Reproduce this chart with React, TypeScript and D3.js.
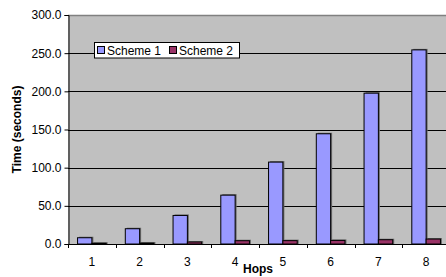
import React, { useRef, useEffect } from 'react';
import * as d3 from 'd3';

const hops = ['1', '2', '3', '4', '5', '6', '7', '8'];
const seriesNames = ['Scheme 1', 'Scheme 2'];
const scheme1 = [8.2, 20.0, 37.4, 64.0, 107.3, 144.4, 197.6, 254.3];
const scheme2 = [1.0, 1.2, 2.6, 4.3, 4.4, 4.7, 5.6, 6.5];
const yTicks = [0, 50, 100, 150, 200, 250, 300];
const colors = ['#9999FF', '#993366'];

const App = () => {
  const svgRef = useRef<SVGSVGElement>(null);
  const margin = { left: 68, top: 15, right: -4, bottom: 33 };
  const totalW = 446;
  const totalH = 277;
  const width = totalW - margin.left - margin.right;
  const height = totalH - margin.top - margin.bottom;

  useEffect(() => {
    const svgEl = d3.select(svgRef.current);
    svgEl.selectAll('*').remove();
    const svg = svgEl.append('g').attr('transform', `translate(${margin.left},${margin.top})`);
    const font = 'Liberation Sans, Arial, sans-serif';

    const x0 = d3.scaleBand().domain(hops).range([0, width]);
    const pad = x0.bandwidth() * 0.2;
    const x1 = d3.scaleBand().domain(seriesNames).range([pad, x0.bandwidth() - pad]);
    const y = d3.scaleLinear().domain([0, 300]).range([height, 0]);

    // plot background
    svg.append('rect')
      .attr('x', 0).attr('y', 0)
      .attr('width', width).attr('height', height)
      .attr('fill', '#C0C0C0');

    // top border
    svg.append('line')
      .attr('x1', 0).attr('x2', width)
      .attr('y1', 0.5).attr('y2', 0.5)
      .attr('stroke', '#808080').attr('stroke-width', 1.5);

    // gridlines
    svg.selectAll('.grid')
      .data(yTicks.filter((t) => t > 0 && t < 300))
      .enter()
      .append('line')
      .attr('x1', 0).attr('x2', width)
      .attr('y1', (d) => Math.round(y(d)) + 0.5)
      .attr('y2', (d) => Math.round(y(d)) + 0.5)
      .attr('stroke', '#000')
      .attr('stroke-width', 1);

    // y axis
    const yAxis = d3.axisLeft(y)
      .tickValues(yTicks)
      .tickSize(4)
      .tickPadding(3)
      .tickFormat((v) => d3.format('.1f')(v as number));
    const yG = svg.append('g').attr('transform', 'translate(0.5,0)').call(yAxis);
    yG.select('.domain').attr('stroke', '#000');
    yG.selectAll('line').attr('stroke', '#000');
    yG.selectAll('text')
      .attr('font-family', font)
      .attr('font-size', 12)
      .attr('fill', '#000');

    // bars
    const seriesData = [scheme1, scheme2];
    seriesData.forEach((vals, si) => {
      const g = svg.append('g');
      g.selectAll('.shadow')
        .data(vals)
        .enter()
        .append('rect')
        .attr('x', (d, i) => x0(hops[i])! + x1(seriesNames[si])! + 1.5)
        .attr('y', (d) => y(d) - 1)
        .attr('width', x1.bandwidth())
        .attr('height', (d) => height - y(d) + 1)
        .attr('fill', '#6a6a6a');
      g.selectAll('.bar')
        .data(vals)
        .enter()
        .append('rect')
        .attr('x', (d, i) => x0(hops[i])! + x1(seriesNames[si])!)
        .attr('y', (d) => y(d))
        .attr('width', x1.bandwidth())
        .attr('height', (d) => height - y(d))
        .attr('fill', colors[si])
        .attr('stroke', '#000')
        .attr('stroke-width', 1);
    });

    // x axis
    const xAxis = d3.axisBottom(x0).tickSize(0).tickPadding(13);
    const xG = svg.append('g').attr('transform', `translate(0,${height})`).call(xAxis);
    xG.select('.domain').remove();
    xG.selectAll('text')
      .attr('font-family', font)
      .attr('font-size', 12)
      .attr('fill', '#000');
    svg.append('line')
      .attr('x1', 0).attr('x2', width)
      .attr('y1', height + 0.5).attr('y2', height + 0.5)
      .attr('stroke', '#000');
    svg.selectAll('.xtick')
      .data(hops)
      .enter()
      .append('line')
      .attr('x1', (d) => Math.round(x0(d)!) + 0.5)
      .attr('x2', (d) => Math.round(x0(d)!) + 0.5)
      .attr('y1', height)
      .attr('y2', height + 4)
      .attr('stroke', '#000');

    // axis titles
    svg.append('text')
      .attr('x', (448 - margin.left) / 2)
      .attr('y', height + 29)
      .attr('text-anchor', 'middle')
      .attr('font-family', font)
      .attr('font-size', 12)
      .attr('font-weight', 'bold')
      .text('Hops');
    svg.append('text')
      .attr('transform', `translate(${-margin.left + 21},${height / 2}) rotate(-90)`)
      .attr('text-anchor', 'middle')
      .attr('font-family', font)
      .attr('font-size', 12)
      .attr('font-weight', 'bold')
      .text('Time (seconds)');

    // legend
    const lg = svg.append('g').attr('transform', `translate(${94 - margin.left},${42 - margin.top})`);
    lg.append('rect')
      .attr('x', 0.5).attr('y', 0.5)
      .attr('width', 145).attr('height', 15.5)
      .attr('fill', '#fff')
      .attr('stroke', '#000');
    const offsets = [3, 75];
    seriesNames.forEach((name, i) => {
      lg.append('rect')
        .attr('x', offsets[i] + 0.5).attr('y', 4.5)
        .attr('width', 7).attr('height', 7)
        .attr('fill', colors[i])
        .attr('stroke', '#000');
      lg.append('text')
        .attr('x', offsets[i] + 10)
        .attr('y', 12.5)
        .attr('font-family', font)
        .attr('font-size', 12)
        .text(name);
    });
  }, []);

  return (
    <svg
      ref={svgRef}
      width={totalW}
      height={totalH}
      style={{ position: 'absolute', left: 0, top: 0, background: '#fff' }}
    />
  );
};

export default App;
